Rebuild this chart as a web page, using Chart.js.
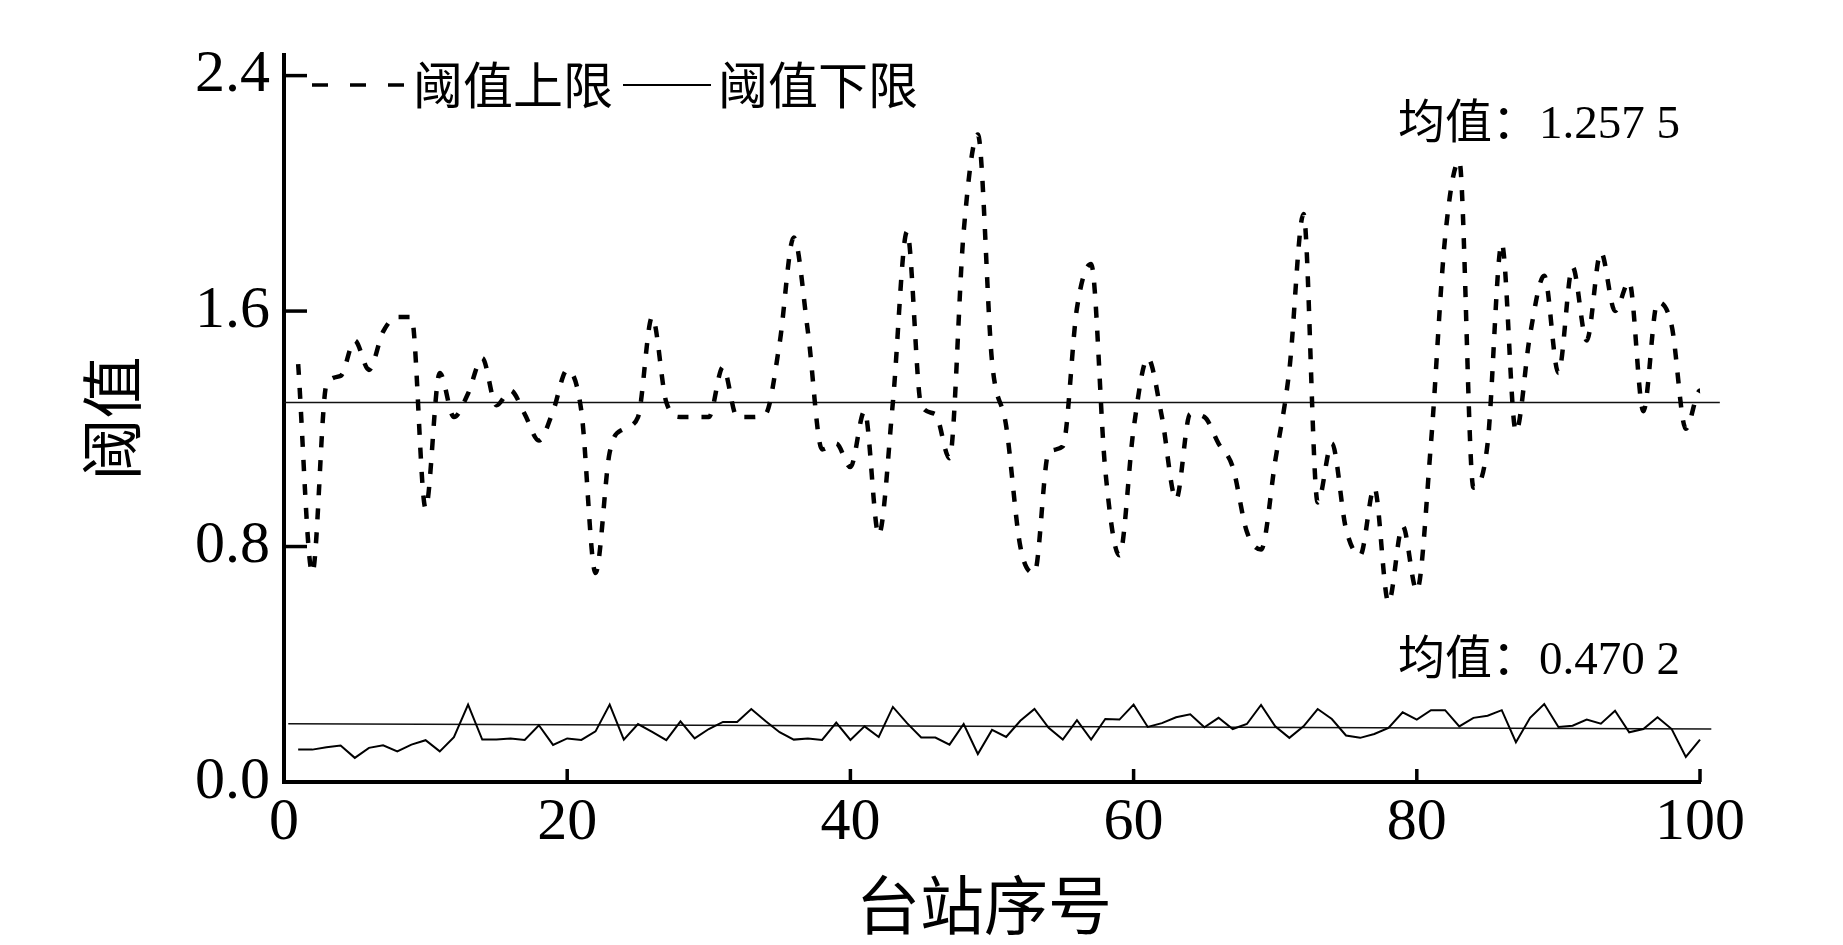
<!DOCTYPE html>
<html>
<head>
<meta charset="utf-8">
<title>阈值</title>
<script src="https://cdn.jsdelivr.net/npm/chart.js@4.4.1/dist/chart.umd.min.js"></script>
<style>
  html, body { margin: 0; padding: 0; background: #fff; }
  #wrap { width: 1843px; height: 945px; position: relative; }
</style>
</head>
<body>
<div id="wrap"><canvas id="chart"></canvas></div>
<script>
// station numbers 1..101
const stations = Array.from({ length: 101 }, (_, i) => i + 1);

// upper threshold (dashed)
const upperVals = [
  1.42, 0.71, 1.35, 1.38, 1.50, 1.40, 1.53, 1.58, 1.58, 0.93,
  1.39, 1.24, 1.32, 1.44, 1.28, 1.33, 1.25, 1.16, 1.26, 1.40,
  1.26, 0.71, 1.12, 1.20, 1.24, 1.58, 1.29, 1.24, 1.24, 1.24,
  1.41, 1.24, 1.24, 1.25, 1.49, 1.85, 1.53, 1.13, 1.15, 1.07,
  1.26, 0.84, 1.29, 1.87, 1.28, 1.25, 1.10, 1.87, 2.20, 1.43,
  1.21, 0.80, 0.71, 1.12, 1.14, 1.61, 1.76, 1.06, 0.77, 1.20,
  1.44, 1.24, 0.96, 1.25, 1.24, 1.15, 1.07, 0.85, 0.79, 1.09,
  1.40, 1.93, 0.95, 1.15, 0.86, 0.77, 1.00, 0.61, 0.87, 0.65,
  1.15, 1.85, 2.11, 1.00, 1.15, 1.83, 1.19, 1.52, 1.72, 1.39,
  1.75, 1.50, 1.80, 1.60, 1.70, 1.26, 1.63, 1.55, 1.20, 1.33,
  1.31
];

// lower threshold (solid)
const lowerVals = [
  0.110, 0.110, 0.118, 0.124, 0.082, 0.116, 0.125, 0.104, 0.127, 0.142,
  0.104, 0.152, 0.263, 0.144, 0.144, 0.148, 0.143, 0.193, 0.126, 0.148,
  0.143, 0.172, 0.263, 0.144, 0.197, 0.170, 0.142, 0.206, 0.148, 0.180,
  0.204, 0.204, 0.248, 0.207, 0.169, 0.144, 0.148, 0.143, 0.202, 0.143,
  0.189, 0.153, 0.255, 0.200, 0.151, 0.151, 0.127, 0.197, 0.095, 0.177,
  0.153, 0.208, 0.248, 0.184, 0.144, 0.210, 0.144, 0.214, 0.212, 0.263,
  0.187, 0.200, 0.220, 0.230, 0.186, 0.218, 0.180, 0.197, 0.262, 0.189,
  0.150, 0.189, 0.248, 0.214, 0.158, 0.150, 0.163, 0.184, 0.237, 0.212,
  0.244, 0.244, 0.189, 0.218, 0.225, 0.244, 0.135, 0.218, 0.265, 0.187,
  0.191, 0.212, 0.198, 0.242, 0.169, 0.180, 0.220, 0.180, 0.085, 0.144,
  0.178
];

// mean reference lines as drawn in the figure
const upperMeanX = [0, 101.4];
const upperMeanY = [1.289, 1.289];
const lowerMeanX = [0.3, 100.8];
const lowerMeanY = [0.198, 0.180];

const xTickVals = [0, 20, 40, 60, 80, 100];
const yTickVals = [0, 0.8, 1.6, 2.4];

const legendNames = ['阈值上限', '阈值下限'];
const meanLabels = ['均值：1.257 5', '均值：0.470 2'];
const xTitle = '台站序号';
const yTitle = '阈值';

const cjk = "'Noto Sans CJK SC'";
const serif = "'Liberation Serif', 'Noto Sans CJK SC'";

const toPts = (xs, ys) => xs.map((x, i) => ({ x: x, y: ys[i] }));

// inward ticks, titles, legend and mean labels
const extras = {
    id: 'extras',
    afterDraw(chart) {
        const ctx = chart.ctx;
        const xs = chart.scales.x;
        const ys = chart.scales.y;
        const area = chart.chartArea;

        ctx.save();
        ctx.strokeStyle = '#000';
        ctx.lineWidth = 3.5;
        ctx.lineCap = 'butt';
        yTickVals.filter(v => v > 0).forEach(v => {
            const py = ys.getPixelForValue(v);
            ctx.beginPath();
            ctx.moveTo(area.left, py);
            ctx.lineTo(area.left + 23, py);
            ctx.stroke();
        });
        xTickVals.filter(v => v > 0).forEach(v => {
            const px = xs.getPixelForValue(v);
            ctx.beginPath();
            ctx.moveTo(px, area.bottom);
            ctx.lineTo(px, area.bottom - 13);
            ctx.stroke();
        });

        // legend
        const ly = 85;
        ctx.lineWidth = 3.5;
        ctx.setLineDash([16, 22]);
        ctx.beginPath();
        ctx.moveTo(312, ly);
        ctx.lineTo(405, ly);
        ctx.stroke();
        ctx.setLineDash([]);
        ctx.lineWidth = 2;
        ctx.beginPath();
        ctx.moveTo(623, ly);
        ctx.lineTo(711, ly);
        ctx.stroke();

        ctx.fillStyle = '#000';
        ctx.textBaseline = 'middle';
        ctx.textAlign = 'left';
        ctx.font = '50px ' + cjk;
        ctx.fillText(legendNames[0], 413, ly);
        ctx.fillText(legendNames[1], 718, ly);

        // mean labels
        ctx.font = '47px ' + serif;
        ctx.fillText(meanLabels[0], 1398, 126);
        ctx.fillText(meanLabels[1], 1398, 662);

        // axis titles
        ctx.textAlign = 'center';
        ctx.font = '64px ' + cjk;
        ctx.fillText(xTitle, (xs.left + xs.right) / 2 - 8, 905);
        ctx.save();
        ctx.translate(112, (area.top + area.bottom) / 2);
        ctx.rotate(-Math.PI / 2);
        ctx.font = '62px ' + cjk;
        ctx.fillText(yTitle, 0, 0);
        ctx.restore();

        ctx.restore();
    }
};

new Chart(document.getElementById('chart'), {
    type: 'line',
    data: {
        datasets: [
            {
                label: legendNames[0],
                data: toPts(stations, upperVals),
                borderColor: '#000',
                borderWidth: 4.5,
                borderDash: [11, 13],
                cubicInterpolationMode: 'monotone',
                pointRadius: 0,
                fill: false,
                clip: false
            },
            {
                label: legendNames[1],
                data: toPts(stations, lowerVals),
                borderColor: '#000',
                borderWidth: 2,
                tension: 0,
                pointRadius: 0,
                fill: false,
                clip: false
            },
            {
                label: 'upperMean',
                data: toPts(upperMeanX, upperMeanY),
                borderColor: '#111',
                borderWidth: 1.5,
                pointRadius: 0,
                clip: false
            },
            {
                label: 'lowerMean',
                data: toPts(lowerMeanX, lowerMeanY),
                borderColor: '#111',
                borderWidth: 1.5,
                pointRadius: 0,
                clip: false
            }
        ]
    },
    options: {
        responsive: true,
        maintainAspectRatio: false,
        devicePixelRatio: 1,
        animation: false,
        layout: { padding: { left: 0, right: 143, top: 55, bottom: 0 } },
        plugins: {
            legend: { display: false },
            tooltip: { enabled: false }
        },
        scales: {
            x: {
                type: 'linear',
                min: 0,
                max: 100,
                afterBuildTicks: s => { s.ticks = xTickVals.map(v => ({ value: v })); },
                afterFit: s => { s.height = 163; },
                grid: { display: false, drawTicks: false },
                border: { display: true, color: '#000', width: 4 },
                ticks: {
                    color: '#000',
                    padding: 11,
                    maxRotation: 0,
                    font: { family: serif, size: 60, lineHeight: 1 }
                }
            },
            y: {
                type: 'linear',
                min: 0,
                max: 2.47,
                afterBuildTicks: s => { s.ticks = yTickVals.map(v => ({ value: v })); },
                afterFit: s => { s.width = 284; },
                grid: { display: false, drawTicks: false },
                border: { display: true, color: '#000', width: 4 },
                ticks: {
                    color: '#000',
                    padding: 14,
                    callback: v => Number(v).toFixed(1),
                    font: { family: serif, size: 60, lineHeight: 1 }
                }
            }
        }
    },
    plugins: [extras]
});
</script>
</body>
</html>
